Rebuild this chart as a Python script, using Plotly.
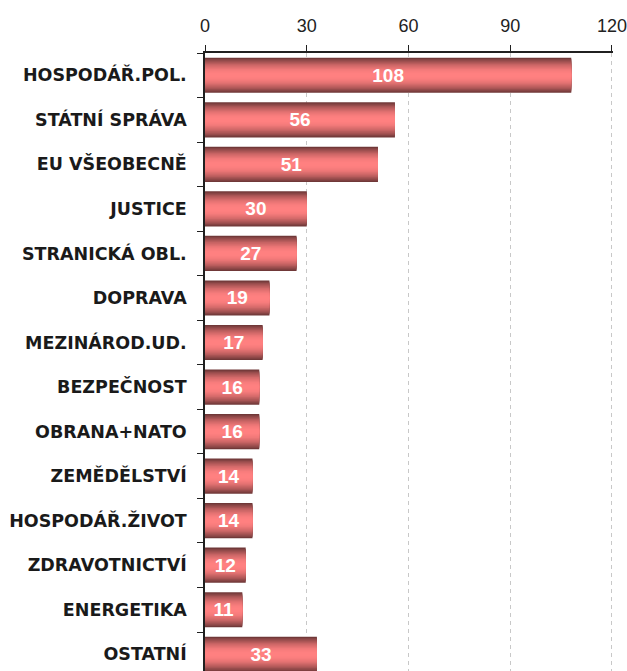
import math
import plotly.graph_objects as go

categories = ["HOSPODÁŘ.POL.", "STÁTNÍ SPRÁVA", "EU VŠEOBECNĚ", "JUSTICE", "STRANICKÁ OBL.",
              "DOPRAVA", "MEZINÁROD.UD.", "BEZPEČNOST", "OBRANA+NATO", "ZEMĚDĚLSTVÍ",
              "HOSPODÁŘ.ŽIVOT", "ZDRAVOTNICTVÍ", "ENERGETIKA", "OSTATNÍ"]
values = [108, 56, 51, 30, 27, 19, 17, 16, 16, 14, 14, 12, 11, 33]
x_ticks = [0, 30, 60, 90, 120]

fig = go.Figure()

# simulated cylinder gradient: overlaid bars of shrinking thickness
dark = (112, 56, 56)
light = (255, 128, 128)
N = 14
full_w = 0.79
for k in range(N):
    t = k / (N - 1)
    f = math.sin(t * math.pi / 2) ** 0.9
    c = tuple(int(round(d + (l - d) * f)) for d, l in zip(dark, light))
    w = full_w * (1 - k / N)
    fig.add_trace(go.Bar(
        y=categories, x=values, orientation="h", width=w,
        marker=dict(color="rgb(%d,%d,%d)" % c, line=dict(width=0)),
        hoverinfo="skip", showlegend=False,
    ))

# value labels
fig.add_trace(go.Bar(
    y=categories, x=values, orientation="h", width=full_w,
    marker=dict(color="rgba(0,0,0,0)", line=dict(width=0)),
    text=[str(v) for v in values], textposition="inside", insidetextanchor="middle",
    constraintext="none",
    textfont=dict(family="Liberation Sans", size=19, color="white", weight="bold"),
    showlegend=False,
))

fig.update_layout(
    width=627, height=671,
    margin=dict(l=205, r=14, t=53, b=0),
    barmode="overlay",
    plot_bgcolor="white", paper_bgcolor="white",
    font=dict(family="Liberation Sans", color="#1a1a1a"),
    xaxis=dict(
        side="top", range=[0, 120.3], tickvals=x_ticks, automargin=False,
        ticklabeloverflow="allow",
        showgrid=True, gridcolor="#c8c8c8", griddash="4px,4px", gridwidth=1,
        showline=True, linecolor="#202020", linewidth=1.5,
        ticks="outside", ticklen=6, tickcolor="#202020",
        tickfont=dict(size=18, color="#222222"), ticklabelstandoff=6,
        zeroline=False, fixedrange=True,
    ),
    yaxis=dict(
        type="category", categoryorder="array", categoryarray=categories,
        range=[13.375, -0.5], automargin=False,
        showline=True, linecolor="#202020", linewidth=1.5,
        ticks="outside", ticklen=6, tickcolor="#202020", tickson="boundaries",
        tickfont=dict(family="DejaVu Sans", size=17.5, color="#1a1a1a", weight="bold"),
        ticklabelstandoff=13,
        showgrid=False, fixedrange=True,
    ),
)

fig.write_html(
    "out.html",
    config={"displayModeBar": False},
    post_script="document.body.style.margin='0';document.body.style.overflow='hidden';",
)
